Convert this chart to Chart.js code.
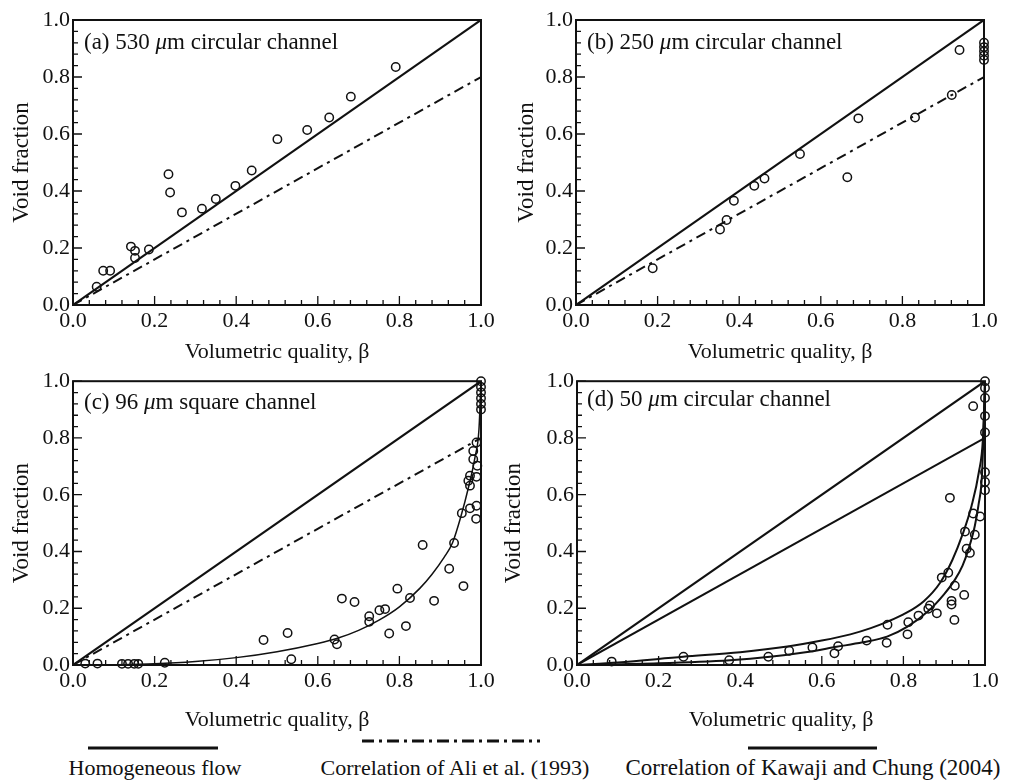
<!DOCTYPE html>
<html lang="en">
<head>
<meta charset="UTF-8">
<title>Void fraction vs volumetric quality</title>
<script src="https://cdn.jsdelivr.net/npm/chart.js"></script>
<style>
  body { margin: 0; background: #fff; }
  #wrap { position: relative; width: 1010px; height: 781px; background: #fff; overflow: hidden;
          font-family: 'Liberation Serif', 'DejaVu Serif', serif; color: #111; }
  canvas { position: absolute; }
  .tag { position: absolute; font-size: 23px; line-height: 26px; white-space: nowrap; }
  .leg { position: absolute; font-size: 22px; white-space: nowrap; transform: translateX(-50%); top: 755px; }
  .sample { position: absolute; }
</style>
</head>
<body>
<div id="wrap">
  <canvas id="pa" width="505" height="370" style="left:0px;top:0px"></canvas>
  <canvas id="pb" width="505" height="370" style="left:505px;top:0px"></canvas>
  <canvas id="pc" width="505" height="370" style="left:0px;top:365px"></canvas>
  <canvas id="pd" width="518" height="370" style="left:492px;top:365px"></canvas>

  <div class="tag" style="left:84px;top:29px">(a) 530 <i>&mu;</i>m circular channel</div>
  <div class="tag" style="left:587px;top:29px">(b) 250 <i>&mu;</i>m circular channel</div>
  <div class="tag" style="left:84px;top:389px">(c) 96 <i>&mu;</i>m square channel</div>
  <div class="tag" style="left:587px;top:386px">(d) 50 <i>&mu;</i>m circular channel</div>

  <svg class="sample" style="left:0;top:735px" width="1010" height="20">
    <line x1="88" y1="13" x2="218" y2="13" stroke="#111" stroke-width="3"/>
    <line x1="362" y1="6" x2="540" y2="6" stroke="#111" stroke-width="3" stroke-dasharray="12,5,3,5"/>
    <line x1="748" y1="13" x2="877" y2="13" stroke="#111" stroke-width="3"/>
  </svg>
  <div class="leg" style="left:155px">Homogeneous flow</div>
  <div class="leg" style="left:455px">Correlation of Ali et al. (1993)</div>
  <div class="leg" style="left:813px;font-size:23px">Correlation of Kawaji and Chung (2004)</div>
</div>

<script>
  // axis ticks (labels every 0.2, minor marks every 0.04)
  const tickStep = 0.04;
  const labelStep = 0.2;

  // reference lines
  const homX = [0, 1];
  const homY = [0, 1];
  const aliX = [0, 1];
  const aliY = [0, 0.8];

  // (a) 530 um circular channel
  const aX = [0.058, 0.074, 0.091, 0.142, 0.152, 0.152, 0.186, 0.234, 0.238, 0.267, 0.316, 0.350, 0.398, 0.438, 0.501, 0.574, 0.628, 0.681, 0.791];
  const aY = [0.064, 0.120, 0.120, 0.205, 0.190, 0.165, 0.195, 0.459, 0.395, 0.325, 0.338, 0.372, 0.418, 0.472, 0.582, 0.614, 0.658, 0.731, 0.835];

  // (b) 250 um circular channel
  const bX = [0.188, 0.353, 0.369, 0.387, 0.437, 0.462, 0.549, 0.665, 0.692, 0.831, 0.921, 0.940, 1.0, 1.0, 1.0, 1.0, 1.0];
  const bY = [0.129, 0.265, 0.298, 0.366, 0.418, 0.444, 0.530, 0.448, 0.655, 0.658, 0.737, 0.895, 0.920, 0.905, 0.890, 0.875, 0.860];

  // (c) 96 um square channel
  const cX = [0.03, 0.06, 0.12, 0.135, 0.15, 0.16, 0.225, 0.467, 0.526, 0.535, 0.641, 0.647, 0.659, 0.690, 0.726, 0.726, 0.751, 0.765, 0.775, 0.795, 0.816, 0.826, 0.857, 0.885, 0.922, 0.934, 0.953, 0.957, 0.969, 0.973, 0.973, 0.973, 0.981, 0.981, 0.988, 0.989, 0.989, 0.989, 0.991, 1.0, 1.0, 1.0, 1.0, 1.0, 1.0];
  const cY = [0.005, 0.005, 0.004, 0.004, 0.004, 0.004, 0.008, 0.088, 0.113, 0.020, 0.090, 0.073, 0.234, 0.222, 0.172, 0.152, 0.193, 0.197, 0.111, 0.269, 0.137, 0.236, 0.423, 0.226, 0.339, 0.430, 0.535, 0.278, 0.649, 0.667, 0.632, 0.552, 0.754, 0.725, 0.515, 0.784, 0.663, 0.561, 0.702, 1.0, 0.98, 0.96, 0.94, 0.92, 0.90];
  const cFitX = [0, 0.1, 0.2, 0.3, 0.4, 0.5, 0.6, 0.65, 0.7, 0.75, 0.8, 0.85, 0.88, 0.91, 0.93, 0.95, 0.97, 0.985, 0.995, 1.0];
  const cFitY = [0, 0.001, 0.004, 0.012, 0.026, 0.047, 0.076, 0.095, 0.122, 0.158, 0.205, 0.270, 0.320, 0.380, 0.430, 0.520, 0.630, 0.730, 0.830, 1.0];

  // (d) 50 um circular channel
  const dX = [0.085, 0.261, 0.373, 0.469, 0.52, 0.577, 0.631, 0.64, 0.71, 0.759, 0.761, 0.81, 0.812, 0.837, 0.861, 0.865, 0.882, 0.894, 0.91, 0.914, 0.918, 0.918, 0.925, 0.926, 0.949, 0.951, 0.955, 0.963, 0.971, 0.971, 0.975, 0.988, 1.0, 1.0, 1.0, 1.0, 1.0, 1.0, 1.0, 1.0];
  const dY = [0.012, 0.029, 0.017, 0.029, 0.050, 0.062, 0.041, 0.066, 0.086, 0.078, 0.142, 0.108, 0.151, 0.174, 0.198, 0.210, 0.182, 0.308, 0.325, 0.589, 0.226, 0.213, 0.159, 0.279, 0.247, 0.470, 0.410, 0.395, 0.534, 0.912, 0.459, 0.523, 1.0, 0.976, 0.941, 0.877, 0.819, 0.679, 0.645, 0.616];
  const dUpX = [0, 0.1, 0.26, 0.4, 0.52, 0.6, 0.67, 0.72, 0.76, 0.8, 0.85, 0.89, 0.92, 0.945, 0.967, 0.985, 0.995, 1.0];
  const dUpY = [0, 0.009, 0.029, 0.045, 0.066, 0.086, 0.108, 0.130, 0.152, 0.178, 0.225, 0.290, 0.370, 0.460, 0.560, 0.680, 0.800, 1.0];
  const dLoX = [0, 0.2, 0.375, 0.473, 0.56, 0.636, 0.7, 0.76, 0.81, 0.861, 0.9, 0.926, 0.945, 0.96, 0.975, 0.984, 0.993, 1.0];
  const dLoY = [0, 0.006, 0.017, 0.029, 0.045, 0.064, 0.080, 0.100, 0.135, 0.190, 0.250, 0.300, 0.350, 0.410, 0.490, 0.563, 0.680, 1.0];

  const FONT = "'Liberation Serif', 'DejaVu Serif', serif";
  const INK = '#111';

  function pts(xs, ys) {
    return xs.map((x, i) => ({ x: x, y: ys[i] }));
  }

  function isLabel(v) {
    const r = v / labelStep;
    return Math.abs(r - Math.round(r)) < 1e-6;
  }

  // box round the plot and inward tick marks on bottom and left
  const frameTicks = {
    id: 'frameTicks',
    afterDatasetsDraw(chart) {
      const { ctx, chartArea: a, scales } = chart;
      const x = scales.x, y = scales.y;
      ctx.save();
      ctx.strokeStyle = INK;
      ctx.lineWidth = 1.3;
      ctx.beginPath();
      x.ticks.forEach(t => {
        const px = x.getPixelForValue(t.value);
        const len = isLabel(t.value) ? 9 : 5;
        ctx.moveTo(px, a.bottom);
        ctx.lineTo(px, a.bottom - len);
      });
      y.ticks.forEach(t => {
        const py = y.getPixelForValue(t.value);
        const len = isLabel(t.value) ? 9 : 5;
        ctx.moveTo(a.left, py);
        ctx.lineTo(a.left + len, py);
      });
      ctx.stroke();
      ctx.lineWidth = 2;
      ctx.strokeRect(a.left, a.top, a.right - a.left, a.bottom - a.top);
      ctx.restore();
    }
  };

  function lineSet(xs, ys, width, dash) {
    return {
      data: pts(xs, ys),
      showLine: true,
      borderColor: INK,
      borderWidth: width,
      borderDash: dash || [],
      pointRadius: 0,
      fill: false
    };
  }

  function curveSet(xs, ys, width) {
    const s = lineSet(xs, ys, width);
    s.cubicInterpolationMode = 'monotone';
    return s;
  }

  function pointSet(xs, ys) {
    return {
      data: pts(xs, ys),
      showLine: false,
      pointStyle: 'circle',
      pointRadius: 4.2,
      pointBorderWidth: 1.5,
      pointBorderColor: INK,
      pointBackgroundColor: 'rgba(255,255,255,0)',
      clip: false
    };
  }

  function axis(fit, title, titlePad, titleSize) {
    return {
      type: 'linear',
      min: 0,
      max: 1,
      afterFit: fit,
      grid: { display: false, drawTicks: false },
      border: { display: false },
      ticks: {
        stepSize: tickStep,
        autoSkip: false,
        maxRotation: 0,
        padding: 3,
        color: INK,
        font: { family: FONT, size: 22 },
        callback: v => isLabel(v) ? v.toFixed(1) : ''
      },
      title: {
        display: true,
        text: title,
        color: INK,
        padding: titlePad,
        font: { family: FONT, size: titleSize }
      }
    };
  }

  function panel(id, datasets, box) {
    new Chart(document.getElementById(id), {
      type: 'scatter',
      data: { datasets: datasets },
      options: {
        responsive: false,
        animation: false,
        layout: { padding: { left: 0, top: box.top, right: box.right, bottom: 0 } },
        plugins: { legend: { display: false }, tooltip: { enabled: false } },
        scales: {
          x: axis(s => { s.height = box.xh; }, 'Volumetric quality, \u03b2', { top: 0, bottom: box.xpad }, 22),
          y: axis(s => { s.width = box.yw; }, 'Void fraction', { top: 8, bottom: 0 }, 23)
        }
      },
      plugins: [frameTicks]
    });
  }

  const dashDot = [10, 5, 3, 5];

  function drawAll() {
    panel('pa', [
      lineSet(homX, homY, 2.2),
      lineSet(aliX, aliY, 2, dashDot),
      pointSet(aX, aY)
    ], { top: 20, right: 24, xh: 65, yw: 73, xpad: 5 });

    panel('pb', [
      lineSet(homX, homY, 2.2),
      lineSet(aliX, aliY, 2, dashDot),
      pointSet(bX, bY)
    ], { top: 20, right: 26, xh: 65, yw: 71, xpad: 5 });

    panel('pc', [
      lineSet(homX, homY, 2.2),
      lineSet(aliX, aliY, 2, dashDot),
      curveSet(cFitX, cFitY, 1.5),
      pointSet(cX, cY)
    ], { top: 15, right: 24, xh: 70, yw: 73, xpad: 2 });

    panel('pd', [
      lineSet(homX, homY, 2.2),
      lineSet(aliX, aliY, 2),
      curveSet(dUpX, dUpY, 2),
      curveSet(dLoX, dLoY, 2),
      pointSet(dX, dY)
    ], { top: 13, right: 25, xh: 70, yw: 85, xpad: 2 });
  }

  if (document.fonts && document.fonts.load) {
    document.fonts.load('22px "Liberation Serif"').then(drawAll, drawAll);
  } else {
    drawAll();
  }
</script>
</body>
</html>
